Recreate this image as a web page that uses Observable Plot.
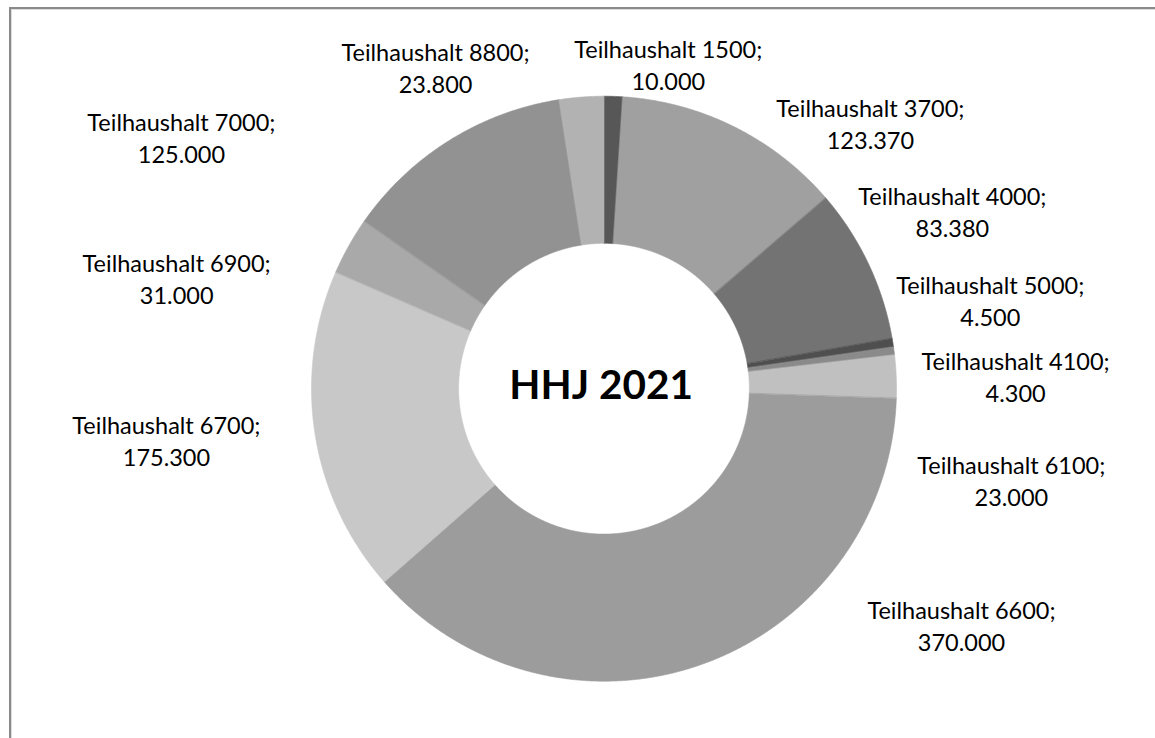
<!DOCTYPE html>
<html><head><meta charset="utf-8">
<script src="https://cdn.jsdelivr.net/npm/d3@7"></script>
<script src="https://cdn.jsdelivr.net/npm/@observablehq/plot@0.6"></script>
<style>
html,body{margin:0;padding:0;background:#fff;overflow:hidden;width:1155px;height:738px}
#frame{position:absolute;left:9px;top:7px;width:1200px;height:800px;border-left:2px solid #8a8a8a;border-top:2px solid #8a8a8a;box-shadow:inset 1px 1px 0 #dcdcdc}
#chart{position:absolute;left:0;top:0}
</style></head><body>
<div id="frame"></div><div id="chart"></div>
<script>
// ---- data ----
const categories = ["Teilhaushalt 1500","Teilhaushalt 3700","Teilhaushalt 4000","Teilhaushalt 5000","Teilhaushalt 4100","Teilhaushalt 6100","Teilhaushalt 6600","Teilhaushalt 6700","Teilhaushalt 6900","Teilhaushalt 7000","Teilhaushalt 8800"];
const values = [10000, 123370, 83380, 4500, 4300, 23000, 370000, 175300, 31000, 125000, 23800];
const centerTitle = "HHJ 2021";

// ---- styles / layout (not data) ----
const sliceColors = ["#575757","#a0a0a0","#737373","#4f4f4f","#8a8a8a","#c0c0c0","#9c9c9c","#c8c8c8","#a9a9a9","#929292","#b2b2b2"];
// label placement, polar: angle in degrees clockwise from 12 o'clock, radius in outer-radius units
const labelAngle  = [11.2, 45.0, 62.9, 77.1, 88.2, 102.6, 123.4, 263.4, 284.5, 300.8, 332.4];
const labelRadius = [1.132, 1.288, 1.338, 1.355, 1.408, 1.427, 1.464, 1.506, 1.509, 1.682, 1.243];

const W = 1155, H = 738;
const R = 292.5, cx = 603.5, cy = 388.2, innerRatio = 0.497;

const de = d3.formatLocale({decimal: ",", thousands: ".", grouping: [3], currency: ["", " €"]});
const fmt = de.format(",d");

const arcs = d3.pie().sort(null).value(d => d)(values);
const polys = [];
arcs.forEach((a, i) => {
  const n = Math.max(4, Math.ceil((a.endAngle - a.startAngle) / 0.005));
  for (let k = 0; k <= n; k++) {
    const t = a.startAngle + (a.endAngle - a.startAngle) * k / n;
    polys.push({name: categories[i], x: Math.sin(t), y: -Math.cos(t)});
  }
  for (let k = n; k >= 0; k--) {
    const t = a.startAngle + (a.endAngle - a.startAngle) * k / n;
    polys.push({name: categories[i], x: innerRatio * Math.sin(t), y: -innerRatio * Math.cos(t)});
  }
});

const labels = categories.map((c, i) => {
  const t = labelAngle[i] * Math.PI / 180;
  return {text: `${c};\n${fmt(values[i])}`, x: labelRadius[i] * Math.sin(t), y: -labelRadius[i] * Math.cos(t)};
});

const chart = Plot.plot({
  width: W, height: H,
  margin: 0,
  x: {domain: [-cx / R, (W - cx) / R], range: [0, W], axis: null},
  y: {domain: [-cy / R, (H - cy) / R], range: [0, H], axis: null},
  color: {type: "ordinal", domain: categories, range: sliceColors, legend: false},
  style: {fontFamily: "Lato, 'Open Sans', sans-serif", background: "transparent"},
  marks: [
    Plot.line(polys, {x: "x", y: "y", z: "name", fill: "name", stroke: "name", strokeWidth: 0.6, curve: "linear-closed"}),
    Plot.text(labels, {x: "x", y: "y", text: "text", fontSize: 23.5, lineHeight: 1.36, fill: "#000", textAnchor: "middle"}),
    Plot.text([{t: centerTitle, x: -0.01, y: -0.01}], {x: "x", y: "y", text: "t", fontSize: 40.5, fontWeight: "bold", fill: "#000", textAnchor: "middle"})
  ]
});
document.getElementById("chart").appendChild(chart);
</script>
</body></html>
